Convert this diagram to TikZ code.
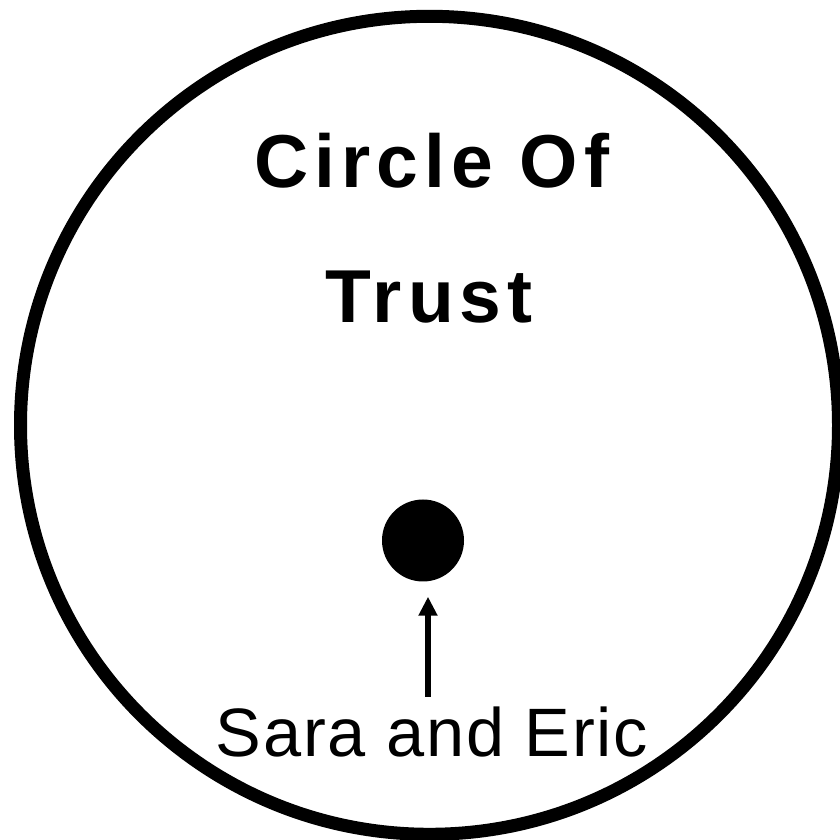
\documentclass[tikz,border=0pt]{standalone}
\usepackage{fontspec}
\setmainfont{Liberation Sans}
\newfontfamily\titlefont[LetterSpace=8]{Liberation Sans}
\newfontfamily\labelfont[LetterSpace=2.5]{Liberation Sans}
\usetikzlibrary{arrows.meta,calc}
\begin{document}
\begin{tikzpicture}[x=1pt,y=1pt,
  trustcircle/.style={draw=black,line width=13pt,circle,inner sep=0pt,minimum size=818pt},
  dotnode/.style={fill=black,circle,inner sep=0pt,minimum size=82pt},
  titletext/.style={anchor=base,inner sep=0pt,font=\titlefont\bfseries\fontsize{75}{90}\selectfont},
  labeltext/.style={anchor=base,inner sep=0pt,font=\labelfont\fontsize{68.5}{80}\selectfont},
  pointer/.style={draw=black,line width=5.5pt,-{Triangle[length=19pt,width=18pt]}}]
\useasboundingbox (0,0) rectangle (840,840);
\node[trustcircle] (outer) at (429.5,414.7) {};
\node[titletext] (t1) at (432,652) {Circle Of};
\node[titletext] (t2) at (429,517) {Trust};
\node[dotnode] (dot) at (423,299.5) {};
\node[labeltext] (lab) at (432,83) {Sara and Eric};
\coordinate (tail) at ($(dot.south)+(5pt,-115pt)$);
\draw[pointer] (tail) -- ($(dot.south)+(5pt,-15pt)$);
\end{tikzpicture}
\end{document}
